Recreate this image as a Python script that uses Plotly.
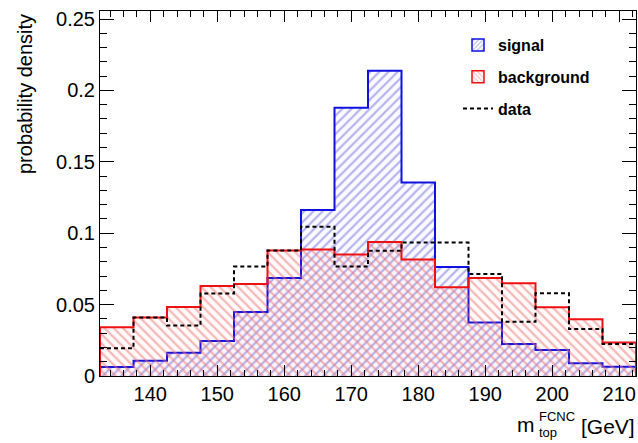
import plotly.graph_objects as go

# bin edges (GeV)
edges = [132.5 + 5 * i for i in range(17)]

signal = [0.0063, 0.0107, 0.0163, 0.0245, 0.0449, 0.0687, 0.1163, 0.1878,
          0.2137, 0.1355, 0.0764, 0.0374, 0.0224, 0.0182, 0.0089, 0.0065]
background = [0.0341, 0.0409, 0.0484, 0.0631, 0.0645, 0.0878, 0.0885, 0.0850,
              0.0938, 0.0815, 0.0621, 0.0687, 0.0650, 0.0481, 0.0397, 0.0234]
data = [0.0194, 0.0409, 0.0353, 0.0577, 0.0766, 0.0878, 0.1045, 0.0766,
        0.0877, 0.0934, 0.0934, 0.0715, 0.0380, 0.0580, 0.0330, 0.0224]

xticks = [140, 150, 160, 170, 180, 190, 200, 210]
yticks = [0, 0.05, 0.1, 0.15, 0.2, 0.25]
ytick_text = ["0", "0.05", "0.1", "0.15", "0.2", "0.25"]


def step_closed(vals):
    # closed outline of a histogram, drawn with line shape "hv"
    x = [edges[0]] + list(edges) + [edges[-1]]
    y = [0] + list(vals) + [vals[-1], 0]
    return x, y


def step(vals):
    return edges, list(vals) + [vals[-1]]


FONT = "Liberation Sans, Arial, Helvetica, sans-serif"

SIG_LINE, SIG_HATCH = "#1010e0", "rgb(110,110,225)"
BKG_LINE, BKG_HATCH = "#ee1111", "rgb(240,115,115)"

fig = go.Figure()

sx, sy = step_closed(signal)
fig.add_trace(go.Scatter(
    x=sx, y=sy, mode="lines", line=dict(shape="hv", color=SIG_LINE, width=2),
    fill="toself", fillcolor="rgba(115,115,225,0.04)",
    fillpattern=dict(shape="/", fgcolor=SIG_HATCH, bgcolor="rgba(115,115,225,0.04)",
                     size=6.5, solidity=0.33),
    name="signal", showlegend=False))

bx, by = step_closed(background)
fig.add_trace(go.Scatter(
    x=bx, y=by, mode="lines", line=dict(shape="hv", color=BKG_LINE, width=2),
    fill="toself", fillcolor="rgba(240,120,120,0.04)",
    fillpattern=dict(shape="\\", fgcolor=BKG_HATCH, bgcolor="rgba(240,120,120,0.04)",
                     size=6.5, solidity=0.33),
    name="background", showlegend=False))

dx, dy = step(data)
fig.add_trace(go.Scatter(
    x=dx, y=dy, mode="lines", line=dict(shape="hv", color="black", width=2, dash="4px,3px"),
    name="data", showlegend=False))

# legend entries (hatched swatches like the ROOT legend)
fig.add_trace(go.Bar(
    x=[None], y=[None], name="signal", legendgroup="s",
    marker=dict(color="rgba(255,255,255,0)", line=dict(color=SIG_LINE, width=1.5),
                pattern=dict(shape="/", fgcolor=SIG_HATCH, size=4, solidity=0.35))))
fig.add_trace(go.Bar(
    x=[None], y=[None], name="background", legendgroup="b",
    marker=dict(color="rgba(255,255,255,0)", line=dict(color=BKG_LINE, width=1.5),
                pattern=dict(shape="\\", fgcolor=BKG_HATCH, size=4, solidity=0.35))))
fig.add_trace(go.Scatter(
    x=[None], y=[None], mode="lines", name="data", legendgroup="d",
    line=dict(color="black", width=2, dash="4px,3px")))


def px_x(p):
    return (p - 100) / 536.0


def px_y(p):
    return (376 - p) / 365.0


annotations = [
    # y-axis title, aligned to the top of the axis
    dict(text="probability density", x=px_x(25), y=px_y(12), xanchor="center",
         yanchor="top", textangle=-90, font=dict(size=20)),
    # x-axis title with stacked super/subscript
    dict(text="m", x=px_x(537), y=px_y(424.5), xanchor="right", yanchor="middle",
         font=dict(size=21)),
    dict(text="FCNC", x=px_x(537), y=px_y(416), xanchor="left", yanchor="middle",
         font=dict(size=13)),
    dict(text="top", x=px_x(537), y=px_y(432), xanchor="left", yanchor="middle",
         font=dict(size=13)),
    dict(text="[GeV]", x=px_x(637), y=px_y(426), xanchor="right", yanchor="middle",
         font=dict(size=21)),
]
for a in annotations:
    a.update(xref="paper", yref="paper", showarrow=False)
    a["font"]["family"] = FONT
    a["font"]["color"] = "black"

fig.update_layout(
    width=638, height=443,
    margin=dict(l=100, r=2, t=11, b=67, pad=0),
    paper_bgcolor="white", plot_bgcolor="white",
    font=dict(family=FONT, size=20, color="black"),
    showlegend=True,
    legend=dict(x=px_x(458), y=px_y(28), xanchor="left", yanchor="top",
                bgcolor="rgba(0,0,0,0)", borderwidth=0, traceorder="grouped",
                font=dict(family=FONT, size=16, color="black", weight="bold"),
                itemwidth=30, tracegroupgap=8),
    annotations=annotations,
    xaxis=dict(range=[132.5, 212.5], tickvals=xticks, ticks="inside", ticklen=11,
               tickcolor="black", tickwidth=1, showline=True, linecolor="black",
               linewidth=1, mirror="ticks", showgrid=False, zeroline=False,
               tickfont=dict(size=20),
               minor=dict(dtick=2, ticks="inside", ticklen=6, tickcolor="black",
                          showgrid=False)),
    yaxis=dict(range=[0, 0.2556], tickvals=yticks, ticktext=ytick_text,
               ticks="inside", ticklen=14, tickcolor="black", tickwidth=1,
               showline=True, linecolor="black", linewidth=1, mirror="ticks",
               showgrid=False, zeroline=False, tickfont=dict(size=20),
               minor=dict(dtick=0.01, ticks="inside", ticklen=7, tickcolor="black",
                          showgrid=False)),
)

fig.write_html("out.html")
